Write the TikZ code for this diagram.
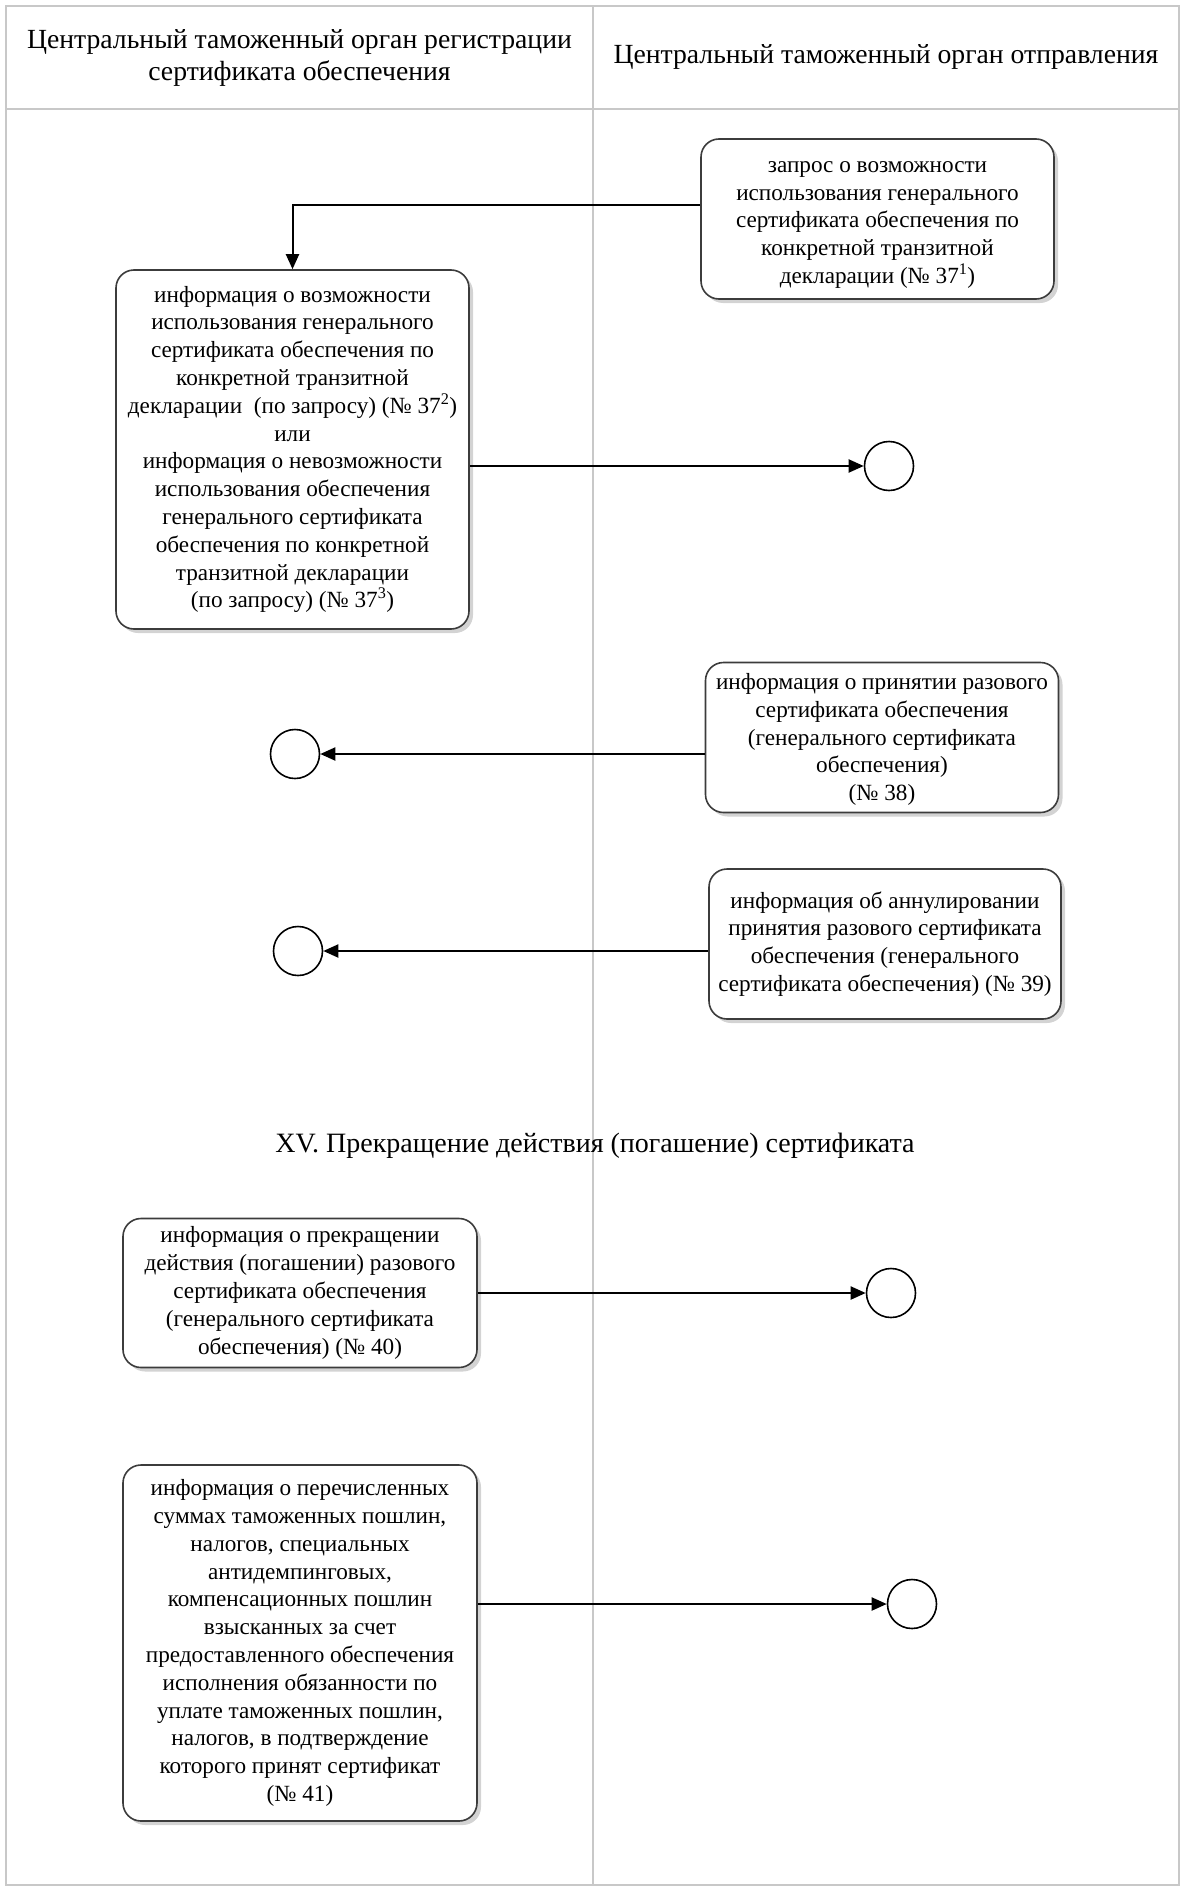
\documentclass[tikz,border=0pt]{standalone}
\usepackage{fontspec}
\setmainfont{Liberation Serif}
\usetikzlibrary{arrows.meta,shadows}
\definecolor{lanegray}{RGB}{200,200,200}
\definecolor{boxgray}{RGB}{60,60,60}
\newcommand{\boxfont}{\fontsize{23.2}{27.8}\selectfont}
\newcommand{\hdrfont}{\fontsize{27.7}{32.5}\selectfont}
\newcommand{\ttlfont}{\fontsize{28}{32.5}\selectfont}
\begin{document}
\begin{tikzpicture}[x=1pt,y=-1pt,
  lane/.style={draw=lanegray, line width=1.2pt},
  box/.style={draw=boxgray, line width=1.6pt, rounded corners=18pt, fill=white,
    align=center, inner sep=0pt, font=\boxfont,
    drop shadow={shadow xshift=4pt, shadow yshift=-4pt, opacity=0.35, fill=gray}},
  boxtext/.style={align=center, inner sep=0pt, font=\boxfont},
  endc/.style={circle, draw=black, line width=1.6pt, minimum size=49pt, inner sep=0pt, fill=white},
  flow/.style={draw=black, line width=2pt, -{Triangle[length=15pt,width=13pt]}},
  hdr/.style={align=center, font=\hdrfont}
]
\useasboundingbox (0,0) rectangle (1184,1892);
% swimlanes
\draw[lane] (6,6) rectangle (1179,1885);
\draw[lane] (6,109) -- (1179,109);
\draw[lane] (593,6) -- (593,1885);
\node[hdr] (h1) at (299.5,58) {Центральный таможенный орган регистрации\\сертификата обеспечения};
\node[hdr] (h2) at (886,57) {Центральный таможенный орган отправления};
% boxes
\node[box, minimum width=353pt, minimum height=160pt] (A) at (877.5,219) {};
\node[boxtext] (Atxt) at (877.5,225)
  {запрос о возможности\\использования генерального\\сертификата обеспечения по\\конкретной транзитной\\декларации (№ 37\textsuperscript{1})};
\node[box, minimum width=353pt, minimum height=359pt] (B) at (292.5,449.5)
  {информация о возможности\\использования генерального\\сертификата обеспечения по\\конкретной транзитной\\декларации\ \ (по запросу) (№ 37\textsuperscript{2})\\или\\информация о невозможности\\использования обеспечения\\генерального сертификата\\обеспечения по конкретной\\транзитной декларации\\(по запросу) (№ 37\textsuperscript{3})};
\node[box, minimum width=353pt, minimum height=150pt] (C) at (882,737.5) {};
\node[boxtext] (Ctxt) at (882,739.5)
  {информация о принятии разового\\сертификата обеспечения\\(генерального сертификата\\обеспечения)\\(№ 38)};
\node[box, minimum width=352pt, minimum height=150pt] (D) at (885,944)
  {информация об аннулировании\\принятия разового сертификата\\обеспечения (генерального\\сертификата обеспечения) (№ 39)};
\node[font=\ttlfont] (t15) at (595,1146) {XV. Прекращение действия (погашение) сертификата};
\node[box, minimum width=354pt, minimum height=149pt] (E) at (300,1293)
  {информация о прекращении\\действия (погашении) разового\\сертификата обеспечения\\(генерального сертификата\\обеспечения) (№ 40)};
\node[box, minimum width=354pt, minimum height=356pt] (F) at (300,1643)
  {информация о перечисленных\\суммах таможенных пошлин,\\налогов, специальных\\антидемпинговых,\\компенсационных пошлин\\взысканных за счет\\предоставленного обеспечения\\исполнения обязанности по\\уплате таможенных пошлин,\\налогов, в подтверждение\\которого принят сертификат\\(№ 41)};
% end circles
\node[endc] (c1) at (889,466) {};
\node[endc] (c2) at (295,754) {};
\node[endc] (c3) at (298,951) {};
\node[endc] (c4) at (891,1293) {};
\node[endc] (c5) at (912,1604) {};
% connectors
\coordinate (yA) at (0,205);
\draw[flow] (A.west |- yA) -| (B.north);
\draw[flow] (B.east |- c1) -- (c1);
\draw[flow] (C.west |- c2) -- (c2);
\draw[flow] (D.west |- c3) -- (c3);
\draw[flow] (E.east |- c4) -- (c4);
\draw[flow] (F.east |- c5) -- (c5);
\end{tikzpicture}
\end{document}
